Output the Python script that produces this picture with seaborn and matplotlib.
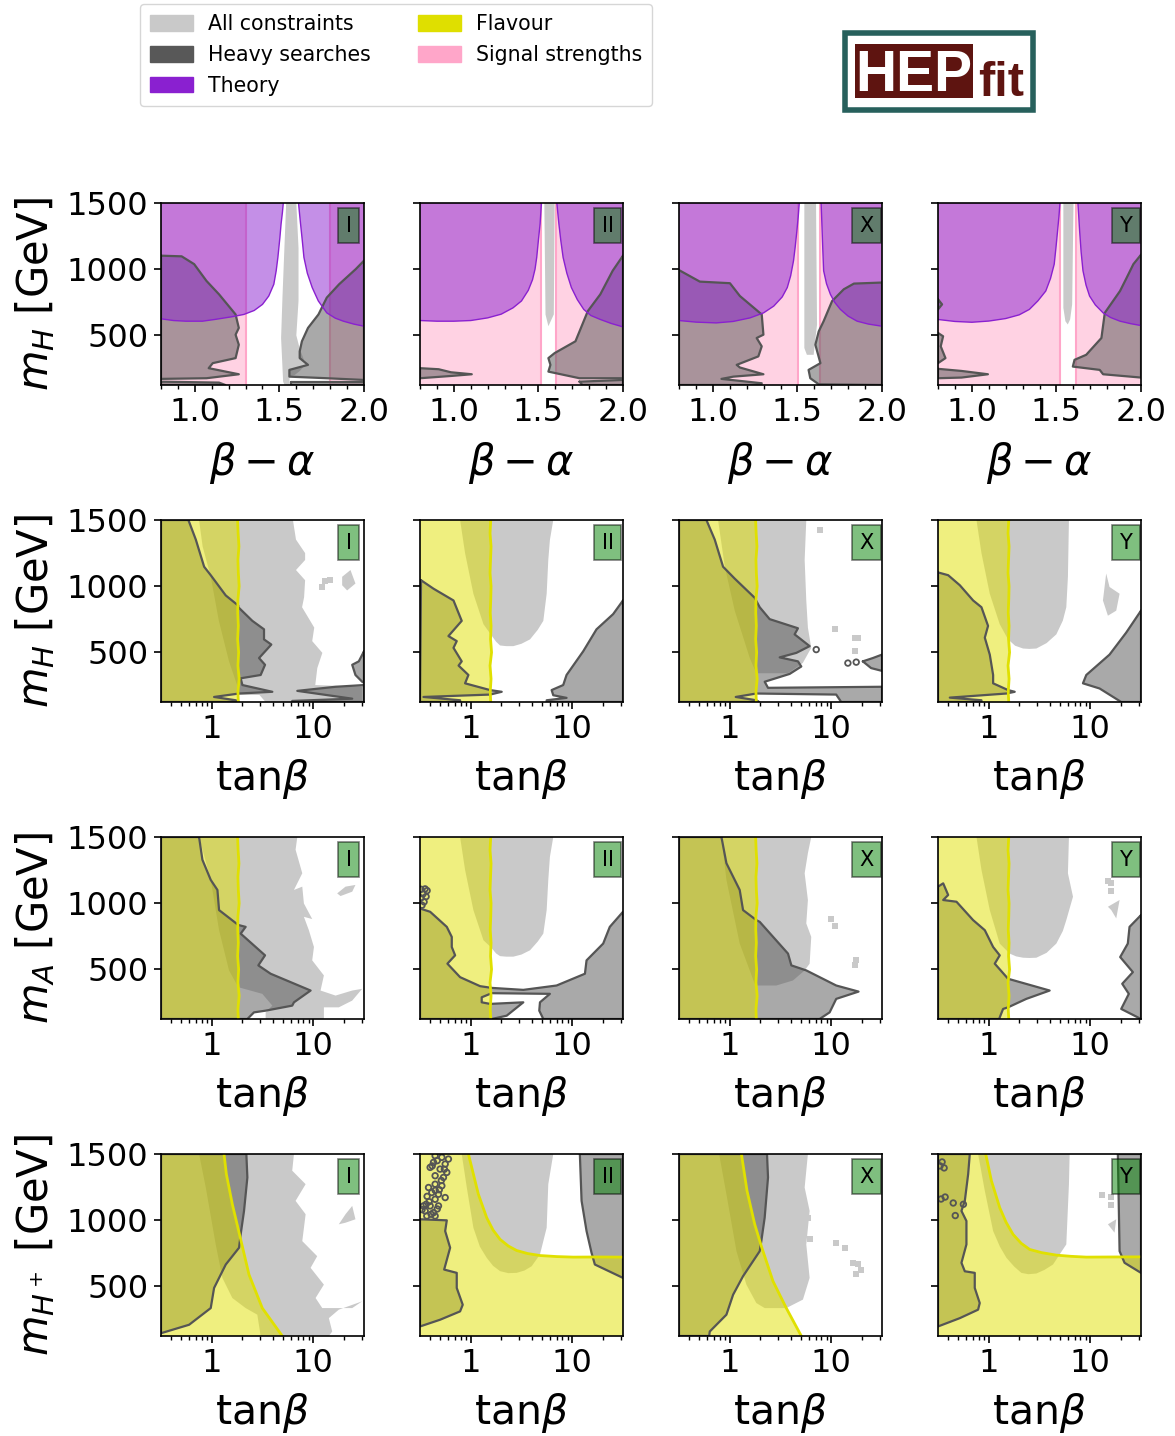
import numpy as np
import seaborn as sns
import matplotlib
matplotlib.use("Agg")
import matplotlib.pyplot as plt
from matplotlib.patches import Patch, Rectangle
from matplotlib.ticker import LogLocator, MultipleLocator, NullFormatter

# legend entries and colours
legend_labels = ["All constraints", "Heavy searches", "Theory", "Flavour", "Signal strengths"]
legend_colors = ["#c9c9c9", "#585858", "#8a20d0", "#dfdf00", "#ffa6c9"]
types = ["I", "II", "X", "Y"]
row_labels = ["$m_H$ [GeV]", "$m_H$ [GeV]", "$m_A$ [GeV]", "$m_{H^+}$ [GeV]"]

# ---- row 1: beta-alpha vs mH
pink_left = [1.30, 1.518, 1.505, 1.521]
pink_right = [1.797, 1.604, 1.636, 1.617]

r1_I_thl_x = [.8, .874, .947, 1.045, 1.118, 1.217, 1.29, 1.351, 1.4, 1.437, 1.467, 1.481, 1.491, 1.503, 1.51, 1.518, 1.523, .8]
r1_I_thl_y = [625, 612, 607, 607, 620, 640, 658, 688, 734, 797, 886, 988, 1089, 1241, 1343, 1431, 1500, 1500]
r1_I_thr_x = [1.613, 1.619, 1.625, 1.635, 1.645, 1.665, 1.694, 1.73, 1.78, 1.83, 1.878, 1.94, 2, 2]
r1_I_thr_y = [1500, 1420, 1343, 1220, 1089, 970, 861, 760, 670, 630, 607, 585, 569, 1500]
r1_II_thl_x = [.8, .9, 1.0, 1.1, 1.2, 1.28, 1.35, 1.4, 1.44, 1.465, 1.48, 1.49, 1.5, 1.51, 1.518, .8]
r1_II_thl_y = [612, 607, 607, 612, 632, 660, 708, 760, 840, 920, 1000, 1089, 1220, 1343, 1500, 1500]
r1_II_thr_x = [1.609, 1.615, 1.621, 1.632, 1.646, 1.668, 1.695, 1.73, 1.768, 1.81, 1.866, 1.93, 2, 2]
r1_II_thr_y = [1500, 1420, 1343, 1220, 1089, 970, 861, 770, 696, 650, 620, 590, 564, 1500]
r1_X_thl_x = [.8, .9, 1.02, 1.12, 1.22, 1.3, 1.36, 1.41, 1.44, 1.46, 1.477, 1.487, 1.497, 1.505, 1.511, .8]
r1_X_thl_y = [612, 600, 594, 605, 632, 670, 721, 790, 861, 950, 1064, 1170, 1292, 1400, 1500, 1500]
r1_X_thr_x = [1.64, 1.643, 1.646, 1.65, 1.655, 1.672, 1.695, 1.72, 1.754, 1.8, 1.853, 1.92, 2, 2]
r1_X_thr_y = [1500, 1400, 1292, 1150, 988, 890, 810, 750, 696, 645, 607, 585, 569, 1500]
r1_Y_thl_x = [.8, .9, 1.0, 1.1, 1.2, 1.28, 1.34, 1.39, 1.437, 1.465, 1.487, 1.497, 1.507, 1.515, 1.521, .8]
r1_Y_thl_y = [620, 605, 599, 608, 627, 655, 696, 760, 835, 930, 1038, 1160, 1292, 1400, 1500, 1500]
r1_Y_thr_x = [1.627, 1.632, 1.637, 1.646, 1.657, 1.675, 1.696, 1.73, 1.776, 1.82, 1.876, 1.94, 2, 2]
r1_Y_thr_y = [1500, 1400, 1292, 1130, 988, 880, 797, 730, 670, 635, 607, 588, 574, 1500]

r1_I_grey_x = [1.54, 1.518, 1.51, 1.522, 1.53, 1.56, 1.56, 1.59, 1.62, 1.655, 1.62, 1.60, 1.613, 1.613, 1.60]
r1_I_grey_y = [1500, 785, 480, 150, 125, 125, 190, 200, 230, 280, 400, 500, 760, 1160, 1500]
r1_II_grey_x = [1.535, 1.542, 1.559, 1.591, 1.596]
r1_II_grey_y = [1500, 658, 569, 658, 1500]
r1_X_grey_x = [1.541, 1.541, 1.556, 1.596, 1.616, 1.61]
r1_X_grey_y = [1500, 404, 353, 353, 582, 1500]
r1_Y_grey_x = [1.541, 1.541, 1.553, 1.567, 1.581, 1.593, 1.601]
r1_Y_grey_y = [1500, 708, 607, 582, 620, 734, 1500]

r1_I_hl_x = [.8, .922, .996, 1.069, 1.143, 1.241, 1.26, 1.241, 1.26, 1.241, 1.106, 1.082, 1.26, 1.069, .8]
r1_I_hl_y = [1102, 1097, 1038, 911, 810, 658, 556, 505, 429, 328, 290, 252, 206, 176, 171]
r1_I_hb_x = [.8, 1.143, 1.18, .8]
r1_I_hb_y = [150, 143, 125, 125]
r1_I_hr_x = [2, 1.951, 1.853, 1.78, 1.731, 1.669, 1.633, 1.62, 1.62, 1.669, 1.559, 1.559, 1.78, 2]
r1_I_hr_y = [1064, 1000, 886, 785, 658, 556, 455, 379, 328, 277, 239, 188, 176, 163]
r1_I_hs_x = [1.571, 2, 2, 1.571]
r1_I_hs_y = [150, 150, 125, 125]

r1_II_hl_x = [.8, .91, .983, 1.106, .983, .8]
r1_II_hl_y = [252, 244, 221, 206, 193, 176]
r1_II_hr_x = [2, 1.939, 1.866, 1.792, 1.719, 1.596, 1.559, 1.571, 1.559, 1.743, 2]
r1_II_hr_y = [1102, 988, 810, 683, 455, 366, 328, 277, 226, 176, 176]
r1_II_hs_x = [1.743, 2, 2, 1.76]
r1_II_hs_y = [150, 163, 125, 125]

r1_X_hl_x = [.8, .923, 1.101, 1.16, 1.289, 1.299, 1.259, 1.289, 1.269, 1.141, 1.16, 1.299, 1.121, 1.051, 1.289, 1.285, .8]
r1_X_hl_y = [993, 906, 894, 797, 658, 505, 480, 417, 341, 277, 257, 206, 188, 171, 138, 125, 125]
r1_X_hr_x = [2, 1.834, 1.774, 1.705, 1.655, 1.626, 1.606, 1.636, 1.566, 1.576, 1.626, 2]
r1_X_hr_y = [899, 891, 848, 759, 607, 530, 429, 290, 239, 176, 130, 125]

r1_Y_ha_x = [.8, .824, .8]
r1_Y_ha_y = [772, 734, 696]
r1_Y_hb_x = [.8, .83, .816, .844, .8]
r1_Y_hb_y = [518, 493, 417, 328, 290]
r1_Y_hc_x = [.8, .939, 1.095, .939, .8]
r1_Y_hc_y = [247, 231, 206, 181, 176]
r1_Y_hr_x = [2, 1.955, 1.916, 1.876, 1.786, 1.766, 1.676, 1.607, 1.597, 1.756, 1.776, 2]
r1_Y_hr_y = [1109, 1038, 937, 835, 670, 480, 353, 315, 264, 239, 206, 181]

# ---- rows 2 and 3: flavour bound (log10 tan beta), nearly vertical
flav_y = [1500, 1400, 1300, 1200, 1100, 1000, 900, 800, 700, 600, 500, 400, 300, 200, 125]
flav_I = [.255, .26, .268, .258, .262, .27, .258, .256, .262, .255, .265, .258, .27, .258, .262]
flav_II = [.197, .19, .2, .195, .19, .2, .197, .192, .2, .195, .205, .19, .2, .192, .197]

# ---- row 2: log10(tan beta) vs mH
r2_I_grey_x = [-.125, -.09, -.01, .07, .17, .26, .27, .47, .53, 1.48, 1.48, 1.02, 1.04, 1.09, .99, 1.01, .89, .91, .92, .83, .92, .92, .83, .80]
r2_I_grey_y = [1500, 1301, 1071, 738, 432, 229, 178, 178, 125, 125, 240, 253, 381, 496, 585, 687, 841, 917, 1045, 1122, 1198, 1250, 1352, 1500]
r2_I_isl_x = [1.285, 1.367, 1.416, 1.334, 1.285]
r2_I_isl_y = [1071, 1122, 1020, 968, 1007]
r2_I_dots_x = [1.17, 1.089, 1.12]
r2_I_dots_y = [1045, 994, 1040]
r2_I_h1_x = [-.23, -.157, -.075, -.01, .138, .262, .262, .40, .515, .515, .587, .466, .525, .482, .285, .302, .597, .269, .023, .236, .269, -.5, -.5]
r2_I_h1_y = [1500, 1352, 1147, 1083, 930, 853, 841, 738, 674, 598, 559, 457, 406, 329, 304, 253, 202, 189, 163, 138, 125, 125, 1500]
r2_I_h2_x = [1.5, 1.449, 1.384, 1.416, 1.482, 1.5]
r2_I_h2_y = [508, 432, 406, 329, 278, 270]
r2_I_h3_x = [1.5, 1.22, .843, 1.384, .793, .793, 1.5]
r2_I_h3_y = [253, 240, 209, 150, 133, 125, 125]

r2_II_grey_x = [-.105, -.056, .026, .125, .197, .25, .289, .35, .42, .5, .584, .66, .715, .748, .764, .78, .813]
r2_II_grey_y = [1500, 1250, 943, 713, 636, 580, 552, 547, 547, 565, 598, 670, 738, 943, 1198, 1350, 1500]
r2_II_h1_x = [-.49, -.367, -.17, -.089, -.22, -.138, -.17, -.089, -.12, -.023, -.056, .19, .305, .19, -.466, -.105, -.105, -.5]
r2_II_h1_y = [1045, 981, 892, 738, 623, 585, 534, 432, 400, 329, 266, 215, 202, 181, 163, 138, 125, 125]
r2_II_h2_x = [1.5, 1.403, 1.239, 1.108, .944, .911, .797, .813, .944, .748, .748, 1.5]
r2_II_h2_y = [892, 789, 674, 508, 329, 253, 215, 176, 156, 138, 125, 125]

r2_X_grey_x = [-.115, -.049, .049, .197, .262, .574, .72, .803, .77, .754, .738, .754]
r2_X_grey_y = [1500, 1147, 815, 457, 342, 342, 420, 534, 687, 892, 1198, 1500]
r2_X_dots_x = [.885, 1.04, 1.23, 1.262, 1.23]
r2_X_dots_y = [1428, 674, 605, 605, 508]
r2_X_hdots_x = [.852, 1.164, 1.246]
r2_X_hdots_y = [521, 419, 426]
r2_X_h1_x = [-.23, -.148, -.066, .049, .246, .295, .393, .672, .639, .787, .656, .492, .672, .705, .59, .344, .377, 1.5, 1.5, 1.098, 1.049, .262, .059, .262, .289, -.5, -.5]
r2_X_h1_y = [1500, 1352, 1147, 1057, 912, 841, 751, 682, 636, 547, 496, 462, 432, 393, 337, 278, 232, 240, 125, 125, 181, 189, 163, 138, 125, 125, 1500]
r2_X_h2_x = [1.311, 1.41, 1.5, 1.5, 1.393]
r2_X_h2_y = [432, 457, 483, 360, 381]

r2_Y_grey_x = [-.121, -.072, .01, .108, .19, .26, .338, .4, .469, .57, .666, .73, .764, .78, .79]
r2_Y_grey_y = [1500, 1250, 943, 713, 598, 550, 529, 526, 529, 570, 636, 740, 841, 1071, 1500]
r2_Y_isl_x = [1.157, 1.19, 1.289, 1.256, 1.174, 1.125]
r2_Y_isl_y = [1096, 994, 943, 815, 777, 892]
r2_Y_h1_x = [-.5, -.4, -.285, -.154, -.072, -.007, -.039, .01, .043, .043, .19, .256, .174, -.384, -.072, -.072, -.5]
r2_Y_h1_y = [1104, 1083, 1007, 892, 841, 700, 611, 483, 329, 266, 215, 202, 189, 158, 138, 125, 125]
r2_Y_h2_x = [1.5, 1.354, 1.19, .961, .928, 1.092, 1.305, 1.5]
r2_Y_h2_y = [815, 649, 483, 329, 266, 227, 125, 125]

# ---- row 3: log10(tan beta) vs mA
r3_I_grey_x = [-.125, -.01, .072, .17, .262, .498, .597, .531, .531, 1.105, 1.105, 1.252, 1.384, 1.482, 1.384, 1.22, 1.072, 1.105, .99, 1.007, .957, .908, .99, .908, .892, .81, .892, .826, .843]
r3_I_grey_y = [1500, 1176, 796, 492, 365, 315, 226, 175, 125, 125, 213, 213, 264, 353, 340, 302, 340, 454, 568, 669, 796, 897, 880, 998, 1125, 1100, 1226, 1404, 1500]
r3_I_isl_x = [1.236, 1.318, 1.416, 1.384, 1.269]
r3_I_isl_y = [1074, 1125, 1138, 1087, 1054]
r3_I_h1_x = [-.125, -.092, -.01, .056, .072, .252, .269, .334, .285, .525, .459, .58, .974, .81, .793, .531, .416, .351, -.5, -.5]
r3_I_h1_y = [1500, 1328, 1176, 1100, 948, 841, 834, 821, 770, 606, 530, 467, 340, 251, 226, 188, 175, 125, 125, 1500]

r3_II_grey_x = [-.105, -.056, .026, .125, .197, .25, .289, .35, .42, .5, .584, .66, .715, .748, .764, .78, .813]
r3_II_grey_y = [1500, 1252, 948, 720, 669, 620, 600, 596, 596, 612, 644, 710, 770, 948, 1176, 1350, 1500]
r3_II_h1_x = [-.5, -.4, -.236, -.187, -.187, -.154, -.23, -.105, .092, .207, .518, .846, 1.125, 1.141, 1.305, 1.37, 1.5, 1.5, .715, .675, .682, .78, .207, .108, .108, .19, .518, .354, .207, -.5]
r3_II_h1_y = [960, 935, 821, 745, 669, 606, 543, 441, 373, 360, 345, 378, 467, 568, 695, 821, 935, 125, 125, 188, 251, 315, 320, 289, 251, 239, 251, 150, 125, 125]
r3_II_sp_x = [-.49, -.45, -.47, -.43, -.49, -.46, -.44, -.48]
r3_II_sp_y = [1105, 1108, 1070, 1095, 1040, 1010, 1050, 985]

r3_X_grey_x = [-.082, -.033, .098, .246, .262, .459, .623, .738, .787, .803, .754, .77, .738, .77, .803]
r3_X_grey_y = [1500, 1176, 695, 391, 378, 378, 416, 492, 543, 745, 847, 1024, 1226, 1378, 1500]
r3_X_dots_x = [1.0, 1.04, 1.246, 1.23]
r3_X_dots_y = [877, 826, 568, 530]
r3_X_h1_x = [-.082, -.033, .098, .131, .262, .295, .574, .607, .754, 1.049, 1.269, 1.049, .984, .885, -.5, -.5]
r3_X_h1_y = [1500, 1302, 1100, 948, 872, 859, 619, 530, 492, 378, 332, 277, 175, 125, 125, 1500]

r3_Y_grey_x = [-.121, -.072, .01, .108, .207, .27, .338, .4, .469, .57, .666, .73, .764, .83, .78, .79]
r3_Y_grey_y = [1500, 1252, 948, 695, 619, 598, 588, 586, 588, 625, 695, 790, 872, 1049, 1226, 1500]
r3_Y_isl_x = [1.174, 1.289, 1.256, 1.207]
r3_Y_isl_y = [973, 1024, 885, 948]
r3_Y_dots_x = [1.174, 1.207, 1.2]
r3_Y_dots_y = [1170, 1090, 1150]
r3_Y_h1_x = [-.5, -.449, -.4, -.449, -.318, -.154, -.039, .043, .108, .059, .19, .6, .37, .19, .141, .102, -.5]
r3_Y_h1_y = [1125, 1150, 1062, 1024, 1011, 872, 796, 669, 606, 543, 429, 340, 277, 213, 201, 125, 125]
r3_Y_h2_x = [1.5, 1.387, 1.37, 1.295, 1.42, 1.315, 1.38, 1.305, 1.5]
r3_Y_h2_y = [910, 821, 695, 593, 479, 391, 315, 201, 125]

# ---- row 4: log10(tan beta) vs mH+
r4_I_flav_x = [.121, .144, .203, .285, .367, .498, .695]
r4_I_flav_y = [1500, 1348, 1120, 855, 589, 336, 125]
r4_I_grey_x = [-.125, -.059, .039, .105, .203, .334, .449, .482, 1.154, 1.187, 1.154, 1.252, 1.482, 1.384, 1.089, 1.023, 1.105, .974, 1.039, .892, .925, .826, .925, .793, .81]
r4_I_grey_y = [1500, 1247, 817, 564, 412, 336, 286, 125, 125, 159, 260, 324, 387, 336, 336, 412, 513, 640, 728, 842, 1045, 1146, 1272, 1374, 1500]
r4_I_isl_x = [1.252, 1.318, 1.384, 1.416, 1.318]
r4_I_isl_y = [969, 1045, 1108, 1007, 981]
r4_I_h1_x = [-.5, .341, .351, .318, .285, .269, .138, .023, -.01, -.223, -.5]
r4_I_h1_y = [1500, 1500, 1323, 1070, 893, 792, 665, 488, 336, 210, 146]

r4_II_flav_x = [-.023, .026, .075, .157, .22, .289, .37, .452, .56, .682, .85, 1.01, 1.25, 1.5]
r4_II_flav_y = [1500, 1348, 1196, 1019, 925, 855, 805, 771, 748, 733, 725, 721, 722, 721]
r4_II_grey_x = [-.089, -.039, .026, .09, .157, .22, .289, .37, .452, .53, .6, .682, .748, .764, .813]
r4_II_grey_y = [1500, 1247, 943, 800, 716, 655, 615, 600, 602, 620, 652, 741, 943, 1272, 1500]
r4_II_h1_x = [-.5, -.236, -.252, -.203, -.262, -.138, -.138, -.079, -.105, -.302, -.5]
r4_II_h1_y = [1007, 999, 918, 792, 627, 602, 488, 361, 311, 248, 197]
r4_II_h2_x = [1.075, 1.092, 1.141, 1.19, 1.223, 1.5, 1.5]
r4_II_h2_y = [1500, 1146, 918, 754, 665, 564, 1500]
r4_II_sp_x = [-.351, -.285, -.22, -.367, -.252, -.4, -.302, -.236, -.351, -.269, -.416, -.351, -.285, -.384, -.318, -.252, -.351, -.466, -.4, -.318, -.449, -.367, -.433, -.351,
              -.33, -.26, -.38, -.29, -.35, -.43, -.31, -.41, -.48, -.44, -.39, -.33]
r4_II_sp_y = [1487, 1475, 1462, 1437, 1424, 1399, 1386, 1361, 1336, 1323, 1247, 1272, 1260, 1209, 1196, 1171, 1158, 1108, 1108, 1108, 1070, 1057, 1032, 1032,
              1450, 1385, 1410, 1300, 1225, 1180, 1230, 1140, 1080, 1120, 1045, 1085]
r4_Y_sp_x = [-.46, -.48, -.44, -.43, -.47, -.35, -.25, -.33]
r4_Y_sp_y = [1440, 1410, 1395, 1175, 1160, 1130, 1120, 1035]

r4_X_flav_x = [.115, .17, .246, .311, .426, .557, .705]
r4_X_flav_y = [1500, 1222, 969, 804, 539, 336, 125]
r4_X_grey_x = [-.105, -.033, .066, .164, .262, .344, .557, .721, .787, .754, .787, .738, .77]
r4_X_grey_y = [1500, 1196, 766, 513, 374, 336, 336, 400, 564, 817, 1070, 1247, 1500]
r4_X_dots_x = [.77, .79, 1.049, 1.131, 1.213, 1.246, 1.295, 1.262]
r4_X_dots_y = [1020, 860, 830, 787, 678, 594, 620, 670]
r4_X_h1_x = [-.5, .367, .377, .344, .311, .295, .131, .033, -.033, -.197, -.203, -.5]
r4_X_h1_y = [1500, 1500, 1323, 1019, 842, 766, 577, 437, 286, 159, 125, 125]

r4_Y_flav_x = [-.03, .026, .108, .17, .239, .32, .403, .52, .666, .81, .961, 1.2, 1.5]
r4_Y_flav_y = [1500, 1298, 1095, 985, 893, 825, 779, 755, 736, 727, 721, 722, 723]
r4_Y_grey_x = [-.105, -.039, .043, .11, .174, .25, .321, .39, .469, .55, .633, .698, .764, .79, .797]
r4_Y_grey_y = [1500, 1222, 918, 800, 716, 650, 602, 592, 597, 625, 665, 741, 817, 1272, 1500]
r4_Y_isl_x = [1.174, 1.256, 1.239]
r4_Y_isl_y = [969, 1007, 906]
r4_Y_dots_x = [1.12, 1.2, 1.205]
r4_Y_dots_y = [1190, 1175, 1115]
r4_Y_h1_x = [-.5, -.187, -.203, -.236, -.269, -.22, -.22, -.269, -.236, -.138, -.138, -.089, -.105, -.285, -.5]
r4_Y_h1_y = [1500, 1500, 1348, 1146, 1070, 994, 817, 678, 614, 602, 488, 374, 324, 260, 197]
r4_Y_h2_x = [1.272, 1.289, 1.338, 1.5, 1.5]
r4_Y_h2_y = [1500, 766, 678, 602, 1500]

# which shapes go in which panel
grey_shapes = {
    (0, 0): [(r1_I_grey_x, r1_I_grey_y)], (0, 1): [(r1_II_grey_x, r1_II_grey_y)],
    (0, 2): [(r1_X_grey_x, r1_X_grey_y)], (0, 3): [(r1_Y_grey_x, r1_Y_grey_y)],
    (1, 0): [(r2_I_grey_x, r2_I_grey_y), (r2_I_isl_x, r2_I_isl_y)], (1, 1): [(r2_II_grey_x, r2_II_grey_y)],
    (1, 2): [(r2_X_grey_x, r2_X_grey_y)], (1, 3): [(r2_Y_grey_x, r2_Y_grey_y), (r2_Y_isl_x, r2_Y_isl_y)],
    (2, 0): [(r3_I_grey_x, r3_I_grey_y), (r3_I_isl_x, r3_I_isl_y)], (2, 1): [(r3_II_grey_x, r3_II_grey_y)],
    (2, 2): [(r3_X_grey_x, r3_X_grey_y)], (2, 3): [(r3_Y_grey_x, r3_Y_grey_y), (r3_Y_isl_x, r3_Y_isl_y)],
    (3, 0): [(r4_I_grey_x, r4_I_grey_y), (r4_I_isl_x, r4_I_isl_y)], (3, 1): [(r4_II_grey_x, r4_II_grey_y)],
    (3, 2): [(r4_X_grey_x, r4_X_grey_y)], (3, 3): [(r4_Y_grey_x, r4_Y_grey_y), (r4_Y_isl_x, r4_Y_isl_y)],
}
grey_dots = {
    (1, 0): (r2_I_dots_x, r2_I_dots_y), (1, 2): (r2_X_dots_x, r2_X_dots_y), (2, 2): (r3_X_dots_x, r3_X_dots_y),
    (2, 3): (r3_Y_dots_x, r3_Y_dots_y), (3, 2): (r4_X_dots_x, r4_X_dots_y), (3, 3): (r4_Y_dots_x, r4_Y_dots_y),
}
heavy_rings = {
    (1, 2): (r2_X_hdots_x, r2_X_hdots_y), (2, 1): (r3_II_sp_x, r3_II_sp_y),
    (3, 1): (r4_II_sp_x, r4_II_sp_y), (3, 3): (r4_Y_sp_x, r4_Y_sp_y),
}
heavy_shapes = {
    (0, 0): [(r1_I_hl_x, r1_I_hl_y), (r1_I_hb_x, r1_I_hb_y), (r1_I_hr_x, r1_I_hr_y), (r1_I_hs_x, r1_I_hs_y)],
    (0, 1): [(r1_II_hl_x, r1_II_hl_y), (r1_II_hr_x, r1_II_hr_y), (r1_II_hs_x, r1_II_hs_y)],
    (0, 2): [(r1_X_hl_x, r1_X_hl_y), (r1_X_hr_x, r1_X_hr_y)],
    (0, 3): [(r1_Y_ha_x, r1_Y_ha_y), (r1_Y_hb_x, r1_Y_hb_y), (r1_Y_hc_x, r1_Y_hc_y), (r1_Y_hr_x, r1_Y_hr_y)],
    (1, 0): [(r2_I_h1_x, r2_I_h1_y), (r2_I_h2_x, r2_I_h2_y), (r2_I_h3_x, r2_I_h3_y)],
    (1, 1): [(r2_II_h1_x, r2_II_h1_y), (r2_II_h2_x, r2_II_h2_y)],
    (1, 2): [(r2_X_h1_x, r2_X_h1_y), (r2_X_h2_x, r2_X_h2_y)],
    (1, 3): [(r2_Y_h1_x, r2_Y_h1_y), (r2_Y_h2_x, r2_Y_h2_y)],
    (2, 0): [(r3_I_h1_x, r3_I_h1_y)],
    (2, 1): [(r3_II_h1_x, r3_II_h1_y)],
    (2, 2): [(r3_X_h1_x, r3_X_h1_y)],
    (2, 3): [(r3_Y_h1_x, r3_Y_h1_y), (r3_Y_h2_x, r3_Y_h2_y)],
    (3, 0): [(r4_I_h1_x, r4_I_h1_y)],
    (3, 1): [(r4_II_h1_x, r4_II_h1_y), (r4_II_h2_x, r4_II_h2_y)],
    (3, 2): [(r4_X_h1_x, r4_X_h1_y)],
    (3, 3): [(r4_Y_h1_x, r4_Y_h1_y), (r4_Y_h2_x, r4_Y_h2_y)],
}
theory_shapes = [
    [(r1_I_thl_x, r1_I_thl_y), (r1_I_thr_x, r1_I_thr_y)],
    [(r1_II_thl_x, r1_II_thl_y), (r1_II_thr_x, r1_II_thr_y)],
    [(r1_X_thl_x, r1_X_thl_y), (r1_X_thr_x, r1_X_thr_y)],
    [(r1_Y_thl_x, r1_Y_thl_y), (r1_Y_thr_x, r1_Y_thr_y)],
]
flav_curves = [(r4_I_flav_x, r4_I_flav_y), (r4_II_flav_x, r4_II_flav_y), (r4_X_flav_x, r4_X_flav_y), (r4_Y_flav_x, r4_Y_flav_y)]

sns.set_style("ticks", {"axes.edgecolor": "black", "text.color": "black", "xtick.color": "black",
                        "ytick.color": "black", "axes.labelcolor": "black"})
plt.rcParams["font.family"] = ["DejaVu Sans"]
plt.rcParams["mathtext.fontset"] = "dejavusans"

W, H = 1175, 1436
fig, axes = plt.subplots(4, 4, figsize=(W / 100, H / 100), dpi=100)
fig.subplots_adjust(left=161 / W, right=1141 / W, top=1 - 203 / H, bottom=1 - 1336 / H, wspace=0.276, hspace=0.742)


def outline(ax, xs, ys, color, lw):
    sns.lineplot(x=xs, y=ys, ax=ax, color=color, linewidth=lw, sort=False, estimator=None, legend=False, zorder=6)


def conv(xs, row):
    return list(xs) if row == 0 else list(10 ** np.array(xs, dtype=float))


for r in range(4):
    for c in range(4):
        ax = axes[r, c]
        if r > 0:
            ax.set_xscale("log")
        for xs, ys in grey_shapes[(r, c)]:
            ax.fill(conv(xs, r), ys, color="#c9c9c9", lw=0, zorder=1)
        if (r, c) in grey_dots:
            dx, dy = grey_dots[(r, c)]
            sns.scatterplot(x=conv(dx, r), y=dy, ax=ax, color="#c9c9c9", s=14, marker="s", linewidth=0, zorder=1, legend=False)
        if r == 0:
            ax.axvspan(0.8, pink_left[c], color="#ffa6c9", alpha=0.5, lw=0, zorder=2)
            ax.axvspan(pink_right[c], 2.0, color="#ffa6c9", alpha=0.5, lw=0, zorder=2)
            ax.axvline(pink_left[c], color="#ffa6c9", lw=1.5, zorder=2)
            ax.axvline(pink_right[c], color="#ffa6c9", lw=1.5, zorder=2)
        for xs, ys in heavy_shapes[(r, c)]:
            xc = conv(xs, r)
            ax.fill(xc, ys, color="#555555", alpha=0.5, lw=0, zorder=3)
            outline(ax, xc + xc[:1], list(ys) + list(ys[:1]), "#555555", 1.6)
        if (r, c) in heavy_rings:
            dx, dy = heavy_rings[(r, c)]
            sns.scatterplot(x=conv(dx, r), y=dy, ax=ax, s=16, facecolor="none", edgecolor="#555555", linewidth=1.3, zorder=6, legend=False)
        if r == 0:
            for xs, ys in theory_shapes[c]:
                ax.fill(xs, ys, color="#8a20d0", alpha=0.5, lw=0, zorder=4)
                outline(ax, xs[:-1], ys[:-1], "#8a20d0", 1.0)
        elif r in (1, 2):
            edge = flav_I if c in (0, 2) else flav_II
            ex = conv(edge, r)
            ax.fill(ex + [10 ** -0.5, 10 ** -0.5], flav_y + [125, 1500], color="#e0e000", alpha=0.5, lw=0, zorder=5)
            outline(ax, ex, flav_y, "#e0e000", 2.0)
        else:
            fx, fy = flav_curves[c]
            cx = conv(fx, r)
            if c in (0, 2):
                ax.fill(cx + [10 ** -0.5, 10 ** -0.5], fy + [125, 1500], color="#e0e000", alpha=0.5, lw=0, zorder=5)
            else:
                ax.fill(cx + [10 ** 1.5, 10 ** -0.5, 10 ** -0.5], fy + [125, 125, 1500], color="#e0e000", alpha=0.5, lw=0, zorder=5)
            outline(ax, cx, fy, "#e0e000", 2.0)

        # axis setup
        ax.set_ylim(125, 1500)
        ax.set_yticks([500, 1000, 1500])
        if r == 0:
            ax.set_xlim(0.8, 2.0)
            ax.set_xticks([1.0, 1.5, 2.0])
            ax.xaxis.set_minor_locator(MultipleLocator(0.1))
            ax.set_xlabel(r"$\beta - \alpha$", fontsize=30, labelpad=8)
        else:
            ax.set_xlim(10 ** -0.5, 10 ** 1.5)
            ax.set_xticks([1, 10])
            ax.set_xticklabels(["1", "10"])
            ax.xaxis.set_minor_locator(LogLocator(base=10, subs=np.arange(2, 10), numticks=10))
            ax.xaxis.set_minor_formatter(NullFormatter())
            ax.set_xlabel(r"tan$\beta$", fontsize=29.5, labelpad=8)
        ax.tick_params(which="major", length=5, width=1.2, labelsize=23, pad=4)
        ax.tick_params(which="minor", length=3, width=1.0)
        for sp in ax.spines.values():
            sp.set_linewidth(1.2)
            sp.set_zorder(10)
        if c == 0:
            ax.set_ylabel(row_labels[r], fontsize=30, labelpad=7)
        else:
            ax.set_ylabel("")
            ax.tick_params(labelleft=False)
        ax.text(0.925, 0.875, types[c], transform=ax.transAxes, ha="center", va="center", fontsize=15, zorder=12,
                bbox=dict(boxstyle="square,pad=0.36", facecolor="green", edgecolor="black", alpha=0.5, lw=1.2))

# legend at the top
handles = [Patch(color=col, label=lab) for col, lab in zip(legend_colors, legend_labels)]
fig.legend(handles=handles, ncol=2, loc="upper left", bbox_to_anchor=(140 / W, 1 - 4 / H), borderaxespad=0,
           fontsize=14.8, handlelength=2.1, handleheight=0.8, labelspacing=0.52, columnspacing=2.28, handletextpad=0.72,
           borderpad=0.5, frameon=True)

# HEPfit logo
fig.add_artist(Rectangle((845 / W, 1 - 110 / H), 188 / W, 77 / H, transform=fig.transFigure, facecolor="white", edgecolor="#27605c", lw=4))
fig.add_artist(Rectangle((855 / W, 1 - 98 / H), 118 / W, 54 / H, transform=fig.transFigure, facecolor="#5e1410", edgecolor="none"))
fig.text(914 / W, 1 - 76 / H, "HEP", color="white", fontsize=41, fontweight="bold", family="Liberation Sans", ha="center", va="center")
fig.text(1001 / W, 1 - 83 / H, "fit", color="#5e1410", fontsize=35, fontweight="bold", family="Liberation Sans", ha="center", va="center")

fig.savefig("out.png", dpi=100)
